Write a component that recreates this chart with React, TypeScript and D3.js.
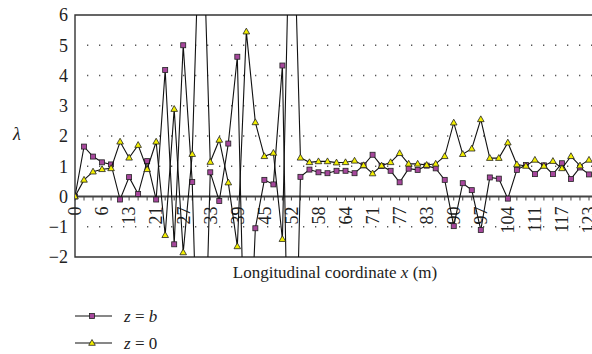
import React from 'react';
import * as d3 from 'd3';

// values, one per station (every 3rd station is labelled)
const tickLabels = ['0', '6', '13', '21', '27', '33', '39', '45', '52', '58', '64', '71', '77', '83', '90', '97', '104', '111', '117', '123'];

const zB = [
  0, 1.65, 1.32, 1.13, 1.06, -0.1, 0.64, 0.08, 1.17, -0.1,
  4.18, -1.58, 5.0, 0.48, -10, 0.8, -0.15, 1.75, 4.62, -8,
  -1.05, 0.55, 0.4, 4.33, -12, 0.65, 0.89, 0.8, 0.77, 0.85,
  0.85, 0.77, 1.03, 1.38, 1.01, 0.85, 0.47, 0.92, 0.88, 1.02,
  0.93, 0.55, -0.98, 0.44, 0.21, -1.11, 0.63, 0.59, -0.07, 0.88,
  1.04, 0.74, 1.03, 0.74, 1.1, 0.58, 0.96, 0.73,
];

const z0 = [
  0, 0.55, 0.82, 0.9, 0.93, 1.81, 1.28, 1.7, 0.9, 1.81,
  -1.28, 2.89, -1.85, 1.4, 11, 1.14, 1.87, 0.46, -1.65, 5.45,
  2.45, 1.33, 1.44, -1.41, 12, 1.28, 1.13, 1.16, 1.16, 1.12,
  1.13, 1.18, 1.03, 0.76, 1.02, 1.13, 1.43, 1.08, 1.08, 1.04,
  1.08, 1.33, 2.44, 1.4, 1.58, 2.55, 1.27, 1.27, 1.78, 1.06,
  1.01, 1.21, 1.01, 1.17, 0.93, 1.33, 1.02, 1.21,
];

const yTicks = [6, 5, 4, 3, 2, 1, 0, -1, -2];

const W = 592;
const H = 354;
const left = 75;
const top = 15;
const bottom = 257;
const right = 600; // frame runs off the picture on the right

const txt = { fontFamily: 'Liberation Serif' };

const SQ_FILL = '#a6479c';
const TRI_FILL = '#f2ee00';

const idx = d3.range(zB.length);
const x = d3.scalePoint<number>().domain(idx).range([75, 589]);
const y = d3.scaleLinear().domain([-2, 6]).range([bottom, top]);

const line = (vals: number[]) =>
  d3.line<number>().x((_, i) => x(i) as number).y((d) => y(d))(vals) || '';

const Square = ({ cx, cy }: { cx: number; cy: number }) => (
  <rect x={cx - 2.5} y={cy - 2.5} width={5} height={5} fill={SQ_FILL} stroke="#222" strokeWidth={0.8} />
);

const Triangle = ({ cx, cy }: { cx: number; cy: number }) => (
  <path d={`M${cx},${cy - 3.5}L${cx + 3.3},${cy + 2.3}L${cx - 3.3},${cy + 2.3}Z`} fill={TRI_FILL} stroke="#222" strokeWidth={0.8} />
);

export default function App() {
  return (
    <div style={{ position: 'absolute', left: 0, top: 0 }}>
      <svg width={W} height={H} style={{ display: 'block', background: '#fff' }}>
        <defs>
          <clipPath id="plot">
            <rect x={left} y={top} width={right - left} height={bottom - top} />
          </clipPath>
        </defs>

        {/* dotted grid */}
        {[5, 4, 3, 2, 1, -1].map((v) => (
          <line key={v} x1={87} x2={W} y1={y(v)} y2={y(v)} stroke="#555" strokeWidth={1.3} strokeDasharray="1.3 10.7" />
        ))}

        {/* frame */}
        <path d={`M${right},${top}H${left}V${bottom}H${right}`} fill="none" stroke="#333" strokeWidth={1.4} />

        {/* zero axis with ticks */}
        <line x1={left} x2={W} y1={y(0)} y2={y(0)} stroke="#444" strokeWidth={2} />
        {idx.map((i) => (
          <line key={i} x1={x(i)} x2={x(i)} y1={y(0)} y2={y(0) + 4} stroke="#444" strokeWidth={1} />
        ))}

        {/* y labels */}
        {yTicks.map((v) => (
          <text key={v} x={68} y={y(v)} dy="0.35em" textAnchor="end" style={txt} fontSize={18} fill="#222">
            {v < 0 ? `\u2212${-v}` : v}
          </text>
        ))}

        {/* x labels, rotated, hanging below the zero line */}
        {tickLabels.map((t, k) => {
          const px = x(k * 3) as number;
          const py = y(0) + 10;
          return (
            <text key={t} transform={`translate(${px},${py}) rotate(-90)`} textAnchor="end" dy="0.35em" style={txt} fontSize={18} fill="#222">
              {t}
            </text>
          );
        })}

        {/* series */}
        <g clipPath="url(#plot)">
          <path d={line(zB)} fill="none" stroke="#111" strokeWidth={1.1} />
          {zB.map((v, i) => <Square key={i} cx={x(i) as number} cy={y(v)} />)}
          <path d={line(z0)} fill="none" stroke="#111" strokeWidth={1.1} />
          {z0.map((v, i) => <Triangle key={i} cx={x(i) as number} cy={y(v)} />)}
        </g>

        {/* axis titles */}
        <text x={17} y={134} dy="0.35em" textAnchor="middle" style={txt} fontStyle="italic" fontSize={18} fill="#222">λ</text>
        <text x={335} y={278} textAnchor="middle" style={txt} fontSize={17} fill="#222">
          Longitudinal coordinate <tspan fontStyle="italic">x</tspan> (m)
        </text>

        {/* legend */}
        <g style={txt} fontSize={17} fill="#222">
          <line x1={75} x2={112} y1={316} y2={316} stroke="#111" strokeWidth={1.1} />
          <Square cx={92} cy={316} />
          <text x={124} y={316} dy="0.35em">
            <tspan fontStyle="italic">z</tspan> = <tspan fontStyle="italic">b</tspan>
          </text>
          <line x1={75} x2={112} y1={343} y2={343} stroke="#111" strokeWidth={1.1} />
          <Triangle cx={92} cy={343} />
          <text x={124} y={343} dy="0.35em">
            <tspan fontStyle="italic">z</tspan> = 0
          </text>
        </g>
      </svg>
    </div>
  );
}
